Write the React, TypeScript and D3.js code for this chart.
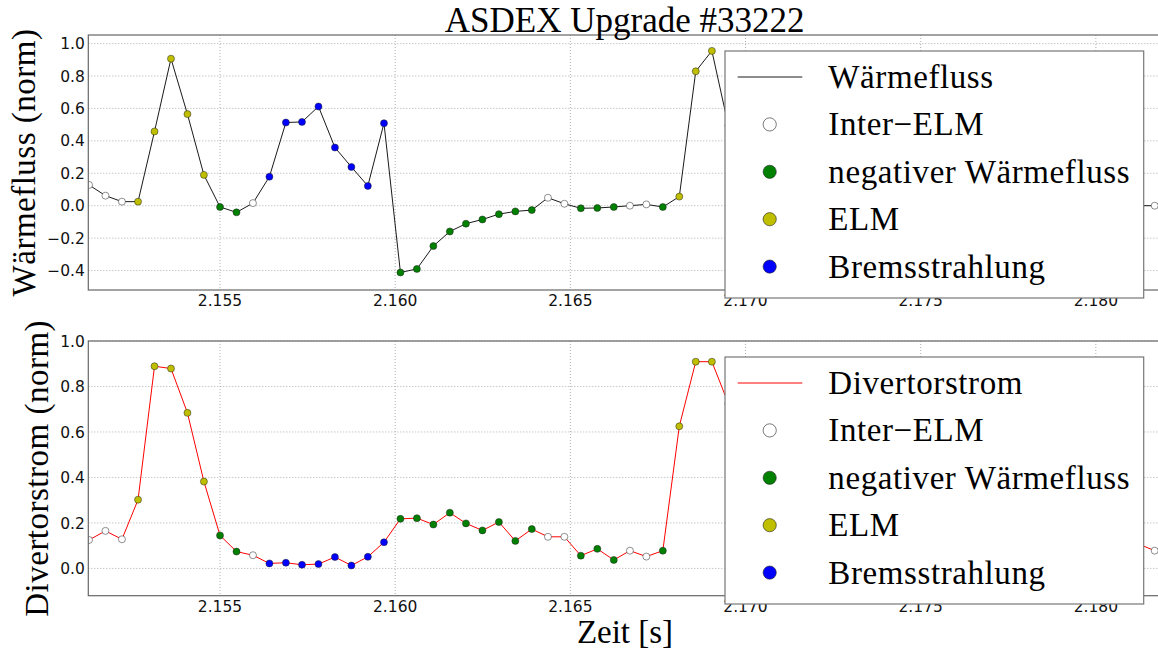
import React, { useEffect, useRef } from 'react';
import * as d3 from 'd3';

// sample times [s]
const time = [
  2.15126, 2.15173, 2.1522, 2.15266, 2.15313, 2.1536, 2.15407, 2.15454, 2.155, 2.15547,
  2.15594, 2.15641, 2.15688, 2.15734, 2.15781, 2.15828, 2.15875, 2.15922, 2.15968, 2.16015,
  2.16062, 2.16109, 2.16156, 2.16202, 2.16249, 2.16296, 2.16343, 2.1639, 2.16436, 2.16483,
  2.1653, 2.16577, 2.16624, 2.1667, 2.16717, 2.16764, 2.16811, 2.16858, 2.16904, 2.16951,
  2.16998, 2.17045, 2.17092, 2.17138, 2.17185, 2.17232, 2.17279, 2.17326, 2.17372, 2.17419,
  2.17466, 2.17513, 2.1756, 2.17606, 2.17653, 2.177, 2.17747, 2.17794, 2.1784, 2.17887,
  2.17934, 2.17981, 2.18028, 2.18074, 2.18121, 2.18168,
];

// normalised heat flux
const heatFlux = [
  0.128, 0.062, 0.025, 0.025, 0.458, 0.907, 0.565, 0.19, -0.008, -0.041,
  0.016, 0.179, 0.513, 0.517, 0.612, 0.359, 0.239, 0.122, 0.509, -0.412,
  -0.39, -0.249, -0.159, -0.111, -0.085, -0.052, -0.035, -0.027, 0.049, 0.012,
  -0.016, -0.014, -0.008, 0.0, 0.008, -0.008, 0.056, 0.829, 0.955, 0.494,
  0.21, 0.08, 0.03, -0.02, -0.05, -0.04, -0.03, -0.02, -0.01, 0.0,
  0.01, -0.01, 0.0, 0.02, 0.01, 0.0, -0.01, 0.01, 0.02, 0.0,
  0.01, 0.0, -0.01, 0.0, 0.0, 0.0,
];

// normalised divertor current
const divertorCurrent = [
  0.125, 0.165, 0.128, 0.302, 0.889, 0.879, 0.684, 0.382, 0.145, 0.074,
  0.058, 0.022, 0.025, 0.016, 0.019, 0.05, 0.013, 0.051, 0.115, 0.218,
  0.221, 0.193, 0.245, 0.198, 0.167, 0.204, 0.121, 0.173, 0.139, 0.139,
  0.056, 0.086, 0.037, 0.078, 0.052, 0.078, 0.625, 0.909, 0.909, 0.725,
  0.45, 0.28, 0.2, 0.16, 0.14, 0.12, 0.13, 0.11, 0.1, 0.12,
  0.1, 0.09, 0.11, 0.1, 0.12, 0.1, 0.09, 0.11, 0.1, 0.12,
  0.11, 0.1, 0.12, 0.11, 0.108, 0.078,
];

// classification of each sample
const category = [
  'inter', 'inter', 'inter', 'elm', 'elm', 'elm', 'elm', 'elm', 'neg', 'neg',
  'inter', 'brems', 'brems', 'brems', 'brems', 'brems', 'brems', 'brems', 'brems', 'neg',
  'neg', 'neg', 'neg', 'neg', 'neg', 'neg', 'neg', 'neg', 'inter', 'inter',
  'neg', 'neg', 'neg', 'inter', 'inter', 'neg', 'elm', 'elm', 'elm', 'elm',
  'elm', 'neg', 'neg', 'neg', 'neg', 'neg', 'neg', 'neg', 'neg', 'neg',
  'neg', 'inter', 'inter', 'inter', 'inter', 'inter', 'inter', 'inter', 'inter', 'inter',
  'inter', 'inter', 'inter', 'inter', 'inter', 'inter',
];

const legendKeys = ['inter', 'neg', 'elm', 'brems'];
const legendLabels = ['Inter\u2212ELM', 'negativer W\u00e4rmefluss', 'ELM', 'Bremsstrahlung'];
const xTicks = [2.155, 2.16, 2.165, 2.17, 2.175, 2.18];
const yTicksTop = [-0.4, -0.2, 0, 0.2, 0.4, 0.6, 0.8, 1.0];
const yTicksBottom = [0, 0.2, 0.4, 0.6, 0.8, 1.0];

const colors: Record<string, string> = {
  inter: '#ffffff',
  neg: '#008000',
  elm: '#bfbf00',
  brems: '#0000ff',
};

const serif = '"Liberation Serif", "Times New Roman", serif';
const sans = '"DejaVu Sans", sans-serif';

const App: React.FC = () => {
  const svgRef = useRef<SVGSVGElement>(null);

  useEffect(() => {
    if (!svgRef.current) return;
    const svg = d3.select(svgRef.current);
    svg.selectAll('*').remove();

    const left = 88.3;
    const right = 1165.9;
    const x = d3.scaleLinear().domain([2.15124, 2.182]).range([left, right]);

    const fmt = (v: number) => d3.format('.1f')(v).replace('-', '\u2212');

    const panels = [
      {
        id: 'top', top: 35, bottom: 290, domain: [-0.52, 1.053], ticks: yTicksTop,
        values: heatFlux, stroke: '#1a1a1a', name: 'W\u00e4rmefluss',
        ylabel: 'W\u00e4rmefluss (norm)', ylabelX: 35,
      },
      {
        id: 'bot', top: 341, bottom: 595.7, domain: [-0.12, 1.0], ticks: yTicksBottom,
        values: divertorCurrent, stroke: '#ff0000', name: 'Divertorstrom',
        ylabel: 'Divertorstrom (norm)', ylabelX: 48,
      },
    ];

    panels.forEach(p => {
      const y = d3.scaleLinear().domain(p.domain).range([p.bottom, p.top]);
      const g = svg.append('g');

      g.append('clipPath').attr('id', `clip-${p.id}`)
        .append('rect')
        .attr('x', left).attr('y', p.top)
        .attr('width', right - left).attr('height', p.bottom - p.top);

      // grid
      g.selectAll('.gx').data(xTicks).enter().append('line')
        .attr('x1', d => x(d)).attr('x2', d => x(d))
        .attr('y1', p.top).attr('y2', p.bottom)
        .attr('stroke', '#9a9a9a').attr('stroke-width', 0.8).attr('stroke-dasharray', '1,2');
      g.selectAll('.gy').data(p.ticks).enter().append('line')
        .attr('x1', left).attr('x2', right)
        .attr('y1', d => y(d)).attr('y2', d => y(d))
        .attr('stroke', '#9a9a9a').attr('stroke-width', 0.8).attr('stroke-dasharray', '1,2');

      const plot = g.append('g').attr('clip-path', `url(#clip-${p.id})`);

      plot.append('path')
        .datum(p.values)
        .attr('fill', 'none')
        .attr('stroke', p.stroke)
        .attr('stroke-width', 1)
        .attr('d', d3.line<number>().x((_, i) => x(time[i])).y(d => y(d)));

      plot.selectAll('circle').data(p.values).enter().append('circle')
        .attr('cx', (_, i) => x(time[i]))
        .attr('cy', d => y(d))
        .attr('r', 3.5)
        .attr('fill', (_, i) => colors[category[i]])
        .attr('stroke', '#222')
        .attr('stroke-width', 0.5);

      // spines
      g.append('rect')
        .attr('x', left).attr('y', p.top)
        .attr('width', right - left).attr('height', p.bottom - p.top)
        .attr('fill', 'none').attr('stroke', '#666').attr('stroke-width', 1.2);

      // tick labels
      g.selectAll('.ty').data(p.ticks).enter().append('text')
        .attr('x', left - 3.5).attr('y', d => y(d))
        .attr('dy', '0.36em')
        .attr('text-anchor', 'end')
        .attr('font-family', sans).attr('font-size', 15.5).attr('fill', '#111')
        .text(d => fmt(d));
      g.selectAll('.tx').data(xTicks).enter().append('text')
        .attr('x', d => x(d)).attr('y', p.bottom + 16)
        .attr('text-anchor', 'middle')
        .attr('font-family', sans).attr('font-size', 15.5).attr('fill', '#111')
        .text(d => d3.format('.3f')(d));

      g.append('text')
        .attr('transform', `translate(${p.ylabelX},${(p.top + p.bottom) / 2}) rotate(-90)`)
        .attr('text-anchor', 'middle')
        .attr('font-family', serif).attr('font-size', 33).attr('fill', '#000')
        .attr('letter-spacing', 0.5)
        .text(p.ylabel);

      // legend
      const lx = 725, ly = p.top + 16, step = 47.4;
      const lg = g.append('g').attr('transform', `translate(${lx},${ly})`);
      lg.append('rect')
        .attr('width', 418.7).attr('height', 247)
        .attr('fill', '#fff').attr('stroke', '#777').attr('stroke-width', 1.2);
      lg.append('line')
        .attr('x1', 12.7).attr('x2', 77.3).attr('y1', 26).attr('y2', 26)
        .attr('stroke', p.stroke).attr('stroke-width', 1);
      lg.append('text')
        .attr('x', 103.3).attr('y', 26 + 11)
        .attr('font-family', serif).attr('font-size', 33).attr('fill', '#000')
        .attr('letter-spacing', 0.6)
        .text(p.name);
      legendKeys.forEach((k, i) => {
        const ry = 26 + step * (i + 1);
        lg.append('circle')
          .attr('cx', 44.7).attr('cy', ry).attr('r', 6.6)
          .attr('fill', colors[k]).attr('stroke', '#222').attr('stroke-width', 0.6);
        lg.append('text')
          .attr('x', 103.3).attr('y', ry + 11)
          .attr('font-family', serif).attr('font-size', 33).attr('fill', '#000')
          .attr('letter-spacing', 0.6)
          .text(legendLabels[i]);
      });
    });

    svg.append('text')
      .attr('x', 624.7).attr('y', 31.5)
      .attr('text-anchor', 'middle')
      .attr('font-family', serif).attr('font-size', 35).attr('fill', '#000')
      .text('ASDEX Upgrade #33222');

    svg.append('text')
      .attr('x', 625).attr('y', 643)
      .attr('text-anchor', 'middle')
      .attr('font-family', serif).attr('font-size', 33).attr('fill', '#000')
      .text('Zeit [s]');
  }, []);

  return (
    <svg
      ref={svgRef}
      width={1158}
      height={654}
      viewBox="0 0 1158 654"
      style={{ position: 'absolute', left: 0, top: 0, background: '#fff' }}
    />
  );
};

export default App;
